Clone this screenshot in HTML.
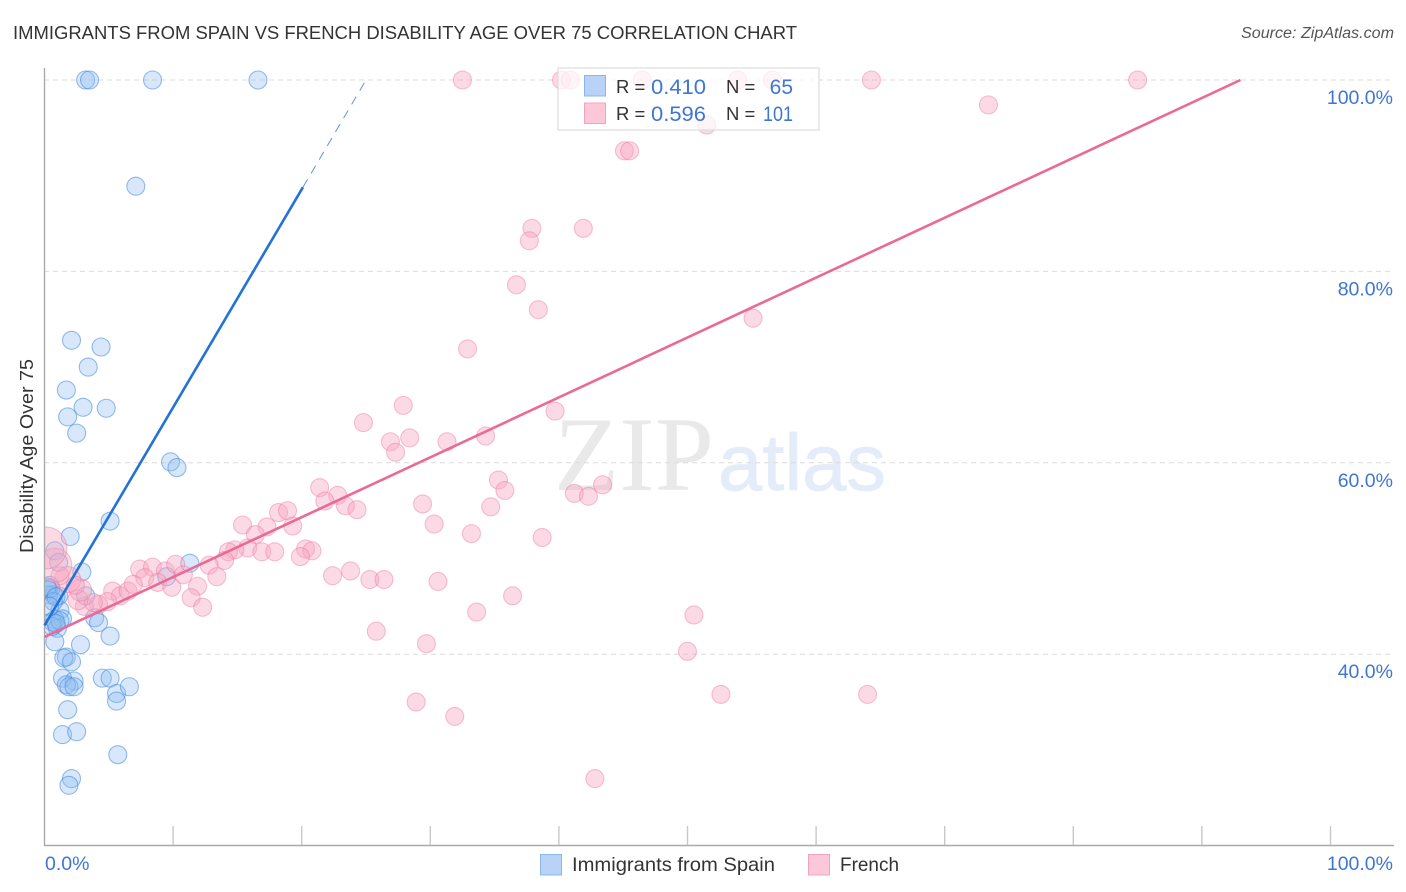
<!DOCTYPE html>
<html lang="en">
<head>
<meta charset="utf-8">
<title>Immigrants from Spain vs French Disability Age Over 75 Correlation Chart</title>
<style>
html,body{margin:0;padding:0;background:#fff;}
svg{display:block;font-family:"Liberation Sans",sans-serif;}
</style>
</head>
<body>
<svg id="chart" xmlns="http://www.w3.org/2000/svg" width="1406" height="892" viewBox="0 0 1406 892">
  <defs>
    <clipPath id="plot-clip"><rect x="45" y="60" width="1350" height="786"/></clipPath>
  </defs>
  <text x="13" y="39" font-size="18.5" fill="#333" textLength="784" lengthAdjust="spacingAndGlyphs">IMMIGRANTS FROM SPAIN VS FRENCH DISABILITY AGE OVER 75 CORRELATION CHART</text>
  <text x="1394" y="38" font-size="15.5" font-style="italic" fill="#555" text-anchor="end" textLength="153" lengthAdjust="spacingAndGlyphs">Source: ZipAtlas.com</text>

  <g>
    <text x="554" y="490" font-family="'Liberation Serif',serif" font-size="106" fill="#e9e9e9" textLength="160" lengthAdjust="spacingAndGlyphs">ZIP</text>
    <text x="718" y="490" font-size="80" fill="#e4ecf9" stroke="#e4ecf9" stroke-width="0.8" textLength="168" lengthAdjust="spacingAndGlyphs">atlas</text>
  </g>

  <g id="grid"></g>
  <g id="points" clip-path="url(#plot-clip)"></g>
  <g id="axes"></g>
  <g id="trends"></g>

  <g>
    <rect x="558" y="68" width="261" height="62" fill="#fff" fill-opacity="0.72" stroke="#ddd" stroke-width="1.2"/>
    <rect x="584.5" y="75.5" width="21" height="20.5" fill="#b8d3f7" stroke="#8ab6ee"/>
    <rect x="584.5" y="103" width="21" height="20.5" fill="#fcc8d9" stroke="#f5a3bd"/>
    <text x="616" y="93" font-size="18.5" fill="#333">R =</text>
    <text x="651" y="94" font-size="21" fill="#3f76d2" textLength="55" lengthAdjust="spacingAndGlyphs">0.410</text>
    <text x="726" y="93" font-size="18.5" fill="#333">N =</text>
    <text x="793" y="94" font-size="21" fill="#3f76d2" text-anchor="end">65</text>
    <text x="616" y="120" font-size="18.5" fill="#333">R =</text>
    <text x="651" y="121" font-size="21" fill="#3f76d2" textLength="55" lengthAdjust="spacingAndGlyphs">0.596</text>
    <text x="726" y="120" font-size="18.5" fill="#333">N =</text>
    <text x="763" y="121" font-size="21" fill="#3f76d2" textLength="30" lengthAdjust="spacingAndGlyphs">101</text>
  </g>

  <text transform="translate(33,456) rotate(-90)" font-size="18" fill="#333" text-anchor="middle" textLength="194" lengthAdjust="spacingAndGlyphs">Disability Age Over 75</text>

  <g>
    <rect x="540.5" y="854.5" width="21" height="20.5" fill="#b8d3f7" stroke="#8ab6ee"/>
    <text x="572" y="871" font-size="19.5" fill="#333" textLength="203" lengthAdjust="spacingAndGlyphs">Immigrants from Spain</text>
    <rect x="808.5" y="854.5" width="21" height="20.5" fill="#fcc8d9" stroke="#f5a3bd"/>
    <text x="840" y="871" font-size="19.5" fill="#333" textLength="59" lengthAdjust="spacingAndGlyphs">French</text>
  </g>
</svg>
<script>
const yTicks = [40, 60, 80, 100];
const yTickLabels = ["40.0%", "60.0%", "80.0%", "100.0%"];
const xTicks = [10, 20, 30, 40, 50, 60, 70, 80, 90, 100];
const xEndLabels = ["0.0%", "100.0%"];

const spainX = [3.2,3.5,8.4,16.6,7.1,2.1,4.4,3.4,1.7,3.0,4.8,1.8,2.5,9.8,10.3,5.1,2.0,0.8,1.1,11.3,2.9,9.5,0.4,0.3,0.7,1.1,3.2,1.2,3.9,4.2,1.4,0.8,0.6,1.0,5.1,0.8,2.8,1.7,1.5,2.1,1.4,2.3,1.7,1.9,2.3,4.5,5.1,5.6,5.6,6.6,1.8,1.4,2.5,5.7,2.1,1.9,0.3,0.5,0.2,0.7,0.9,0.6,1.2,0.4,0.9];
const spainY = [100,100,100,100,88.9,72.8,72.1,70.0,67.6,65.8,65.7,64.8,63.1,60.1,59.5,53.9,52.3,50.8,49.6,49.5,48.6,48.1,47.2,46.7,46.2,46.1,46.1,44.6,43.8,43.3,43.7,43.6,43.4,42.7,41.9,41.3,41.0,39.7,39.6,39.2,37.5,37.2,36.8,36.6,36.6,37.5,37.5,35.9,35.1,36.6,34.2,31.6,31.9,29.5,27.0,26.3,46.2,46.9,47.0,45.5,46.0,42.9,43.5,45.0,43.2];

const frenchX = [32.5,40.2,40.9,46.5,53.9,56.6,64.3,85.0,73.4,51.5,45.1,45.5,37.9,41.9,37.7,36.7,38.4,55.1,32.9,27.9,39.7,24.8,34.3,28.4,26.9,31.3,27.3,35.3,35.8,21.4,22.8,21.8,23.4,24.3,29.4,34.7,41.2,42.3,43.4,30.3,33.2,38.7,15.4,18.2,18.9,17.3,19.3,16.4,15.8,14.8,14.3,14.0,12.8,16.9,17.9,20.3,20.8,19.9,22.4,23.8,25.3,26.4,30.6,36.4,33.6,25.8,29.7,50.5,50.0,52.6,64.0,28.9,31.9,42.8,7.4,8.4,9.4,10.2,7.8,8.8,9.9,10.8,11.9,13.4,11.4,12.3,5.3,5.9,6.5,6.9,4.9,4.2,3.1,3.8,2.6,2.8,1.8,1.2,2.4,0.8,0.1];
const frenchY = [100,100,100,100,100,100,100,100,97.4,95.3,92.6,92.6,84.5,84.5,83.2,78.6,76.0,75.1,71.9,66.0,65.4,64.2,62.8,62.6,62.2,62.2,61.1,58.2,57.1,57.4,56.6,56.0,55.5,55.1,55.7,55.4,56.8,56.5,57.7,53.6,52.6,52.2,53.5,54.8,55.0,53.3,53.4,52.5,51.1,50.9,50.7,49.8,49.3,50.7,50.7,51.0,50.8,50.2,48.2,48.7,47.8,47.8,47.6,46.1,44.4,42.4,41.1,44.1,40.3,35.8,35.8,35.0,33.5,27.0,48.9,49.1,48.7,49.4,48.0,47.5,47.0,48.3,47.1,48.1,45.9,44.9,46.6,46.1,46.6,47.3,45.5,45.2,45.0,45.4,45.7,46.7,47.8,48.2,47.2,49.3,51.1];
const frenchRadius = [9,9,9,9,9,9,9,9,9,9,9,9,9,9,9,9,9,9,9,9,9,9,9,9,9,9,9,9,9,9,9,9,9,9,9,9,9,9,9,9,9,9,9,9,9,9,9,9,9,9,9,9,9,9,9,9,9,9,9,9,9,9,9,9,9,9,9,9,9,9,9,9,9,9,9,9,9,9,9,9,9,9,9,9,9,9,9,9,9,9,9,9,9,9,10,11,13,9,9,17,21];

const spainTrend = [[0, 43], [20.1, 88.8]];
const spainTrendDashed = [[20.1, 88.8], [25, 100]];
const frenchTrend = [[0, 41.8], [93, 100]];

const NS = "http://www.w3.org/2000/svg";
const xPx = v => 44.5 + v * 12.86;
const yPx = v => 80 + (100 - v) * 9.57;
const plotBottom = 845;

function make(parent, tag, attrs, text) {
  const el = document.createElementNS(NS, tag);
  for (const k in attrs) el.setAttribute(k, attrs[k]);
  if (text !== undefined) el.textContent = text;
  parent.appendChild(el);
  return el;
}

const grid = document.getElementById("grid");
const axes = document.getElementById("axes");
const pts = document.getElementById("points");
const trends = document.getElementById("trends");

yTicks.forEach((t, i) => {
  const line = make(grid, "line", {x1: 44, x2: 1394, y1: yPx(t), y2: yPx(t), stroke: "#dcdcdc", "stroke-width": 1, "stroke-dasharray": "5 4"});
  
  
  const label = make(axes, "text", {x: 1393, y: yPx(t) + 24, "font-size": 19.5, fill: "#3f76d2", "text-anchor": "end"}, yTickLabels[i]);
  
  
});

spainX.forEach((x, i) => {
  const c = make(pts, "circle", {cx: xPx(x), cy: yPx(spainY[i]), r: 9, fill: "#8fbcf2", "fill-opacity": 0.35, stroke: "#3f86dc", "stroke-opacity": 0.55, "stroke-width": 1.1});
  
  
});

frenchX.forEach((x, i) => {
  const c = make(pts, "circle", {cx: xPx(x), cy: yPx(frenchY[i]), r: frenchRadius[i], fill: "#f9a6c0", "fill-opacity": 0.42, stroke: "#ec6f98", "stroke-opacity": 0.42, "stroke-width": 1.1});
  
  
});

const axisY = make(axes, "line", {x1: 44.5, x2: 44.5, y1: 68, y2: plotBottom + 0.5, stroke: "#aaa", "stroke-width": 1.4});


const axisX = make(axes, "line", {x1: 44, x2: 1394, y1: plotBottom + 0.5, y2: plotBottom + 0.5, stroke: "#aaa", "stroke-width": 1.4});



xTicks.forEach(t => {
  const tick = make(axes, "line", {x1: xPx(t), x2: xPx(t), y1: plotBottom - 19, y2: plotBottom, stroke: "#c8c8c8", "stroke-width": 1.4});
  
  
});

const x0 = make(axes, "text", {x: 45, y: 870, "font-size": 19.5, fill: "#3f76d2"}, xEndLabels[0]);


const x1 = make(axes, "text", {x: 1393, y: 870, "font-size": 19.5, fill: "#3f76d2", "text-anchor": "end"}, xEndLabels[1]);



const spainLine = make(trends, "line", {x1: xPx(spainTrend[0][0]), y1: yPx(spainTrend[0][1]), x2: xPx(spainTrend[1][0]), y2: yPx(spainTrend[1][1]), stroke: "#2272d8", "stroke-width": 2.6});


const spainDash = make(trends, "line", {x1: xPx(spainTrendDashed[0][0]), y1: yPx(spainTrendDashed[0][1]), x2: xPx(spainTrendDashed[1][0]), y2: yPx(spainTrendDashed[1][1]), stroke: "#5b95e0", "stroke-width": 1, "stroke-dasharray": "9 7"});


const frenchLine = make(trends, "line", {x1: xPx(frenchTrend[0][0]), y1: yPx(frenchTrend[0][1]), x2: xPx(frenchTrend[1][0]), y2: yPx(frenchTrend[1][1]), stroke: "#ea6a97", "stroke-width": 2.6});


</script>
</body>
</html>
